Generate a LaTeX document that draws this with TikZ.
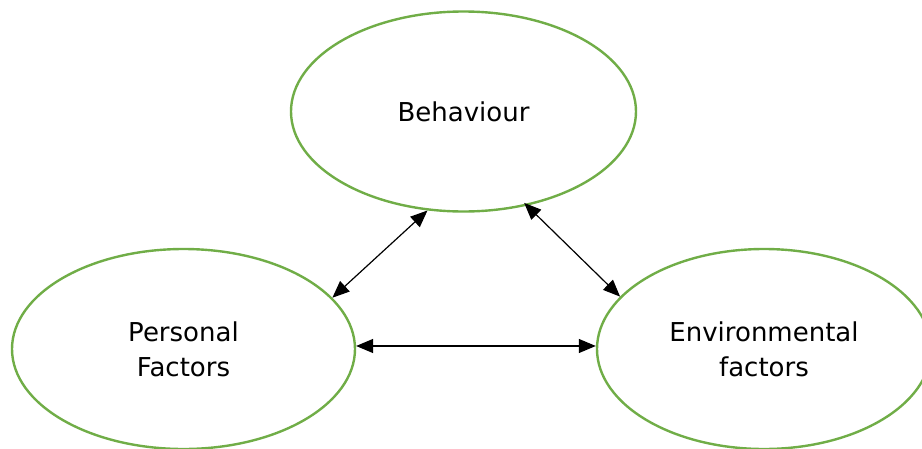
\documentclass[tikz,border=0pt]{standalone}
\usepackage{fontspec}
\setmainfont{DejaVu Sans}
\usetikzlibrary{shapes.geometric,arrows.meta}
\definecolor{leafgreen}{HTML}{70AD47}
\begin{document}
\begin{tikzpicture}[x=1pt,y=-1pt,
  factor/.style={ellipse, draw=leafgreen, line width=2.4pt, inner sep=0pt,
    align=center, font=\fontsize{26}{35}\selectfont},
  link/.style={line width=1.2pt, {Triangle[length=17pt,width=14pt]}-{Triangle[length=17pt,width=14pt]}}]
  \useasboundingbox (0,0) rectangle (922,448);
  \node[factor, minimum width=345pt, minimum height=200pt] (beh) at (463.5,111.5) {Behaviour};
  \node[factor, minimum width=343pt, minimum height=200pt] (pers) at (183.5,349) {Personal\\Factors};
  \node[factor, minimum width=334pt, minimum height=200pt] (env) at (764,349) {Environmental\\factors};
  \draw[link] (beh.-110.8) -- (pers.19.4);
  \draw[link, shorten <=-4pt] (beh.-56.2) -- (env.160.3);
  \draw[link] (pers.1.3) -- (pers.1.3 -| env.west);
\end{tikzpicture}
\end{document}
